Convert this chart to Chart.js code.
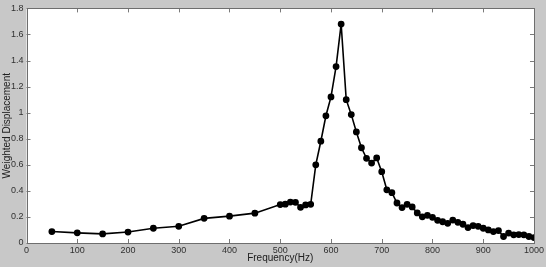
<!DOCTYPE html>
<html>
<head>
<meta charset="utf-8">
<script src="https://cdn.jsdelivr.net/npm/chart.js@4/dist/chart.umd.min.js"></script>
<style>
  html, body { margin: 0; padding: 0; background: #c8c8c8; }
  #wrap { width: 546px; height: 267px; }
</style>
</head>
<body>
<div id="wrap"><canvas id="freqChart" width="546" height="267"></canvas></div>
<script>
// frequency (Hz) and weighted displacement
const freqs = [50, 100, 150, 200, 250, 300, 350, 400, 450,
  500, 510, 520, 530, 540, 550, 560, 570, 580, 590,
  600, 610, 620, 630, 640, 650, 660, 670, 680, 690,
  700, 710, 720, 730, 740, 750, 760, 770, 780, 790,
  800, 810, 820, 830, 840, 850, 860, 870, 880, 890,
  900, 910, 920, 930, 940, 950, 960, 970, 980, 990, 1000];
const displacement = [0.088, 0.078, 0.070, 0.084, 0.113, 0.128, 0.189, 0.206, 0.229,
  0.295, 0.298, 0.314, 0.312, 0.274, 0.292, 0.297, 0.600, 0.781, 0.976,
  1.121, 1.354, 1.680, 1.100, 0.985, 0.852, 0.731, 0.650, 0.613, 0.653,
  0.547, 0.408, 0.386, 0.307, 0.272, 0.297, 0.277, 0.231, 0.201, 0.212,
  0.197, 0.174, 0.163, 0.151, 0.176, 0.159, 0.144, 0.118, 0.134, 0.128,
  0.113, 0.100, 0.088, 0.095, 0.050, 0.076, 0.063, 0.065, 0.063, 0.050, 0.042];
const xTicks = [0, 100, 200, 300, 400, 500, 600, 700, 800, 900, 1000];
const yTicks = [0, 0.2, 0.4, 0.6, 0.8, 1, 1.2, 1.4, 1.6, 1.8];

const canvas = document.getElementById('freqChart');
const points = freqs.map((f, i) => ({ x: f, y: displacement[i] }));

// gray figure background + white axes box, matlab style
const backdrop = {
  id: 'backdrop',
  beforeDraw(chart) {
    const ctx = chart.ctx;
    const a = chart.chartArea;
    ctx.save();
    ctx.fillStyle = '#c8c8c8';
    ctx.fillRect(0, 0, chart.width, chart.height);
    ctx.fillStyle = '#ffffff';
    ctx.fillRect(a.left, a.top, a.right - a.left, a.bottom - a.top);
    ctx.restore();
  },
  afterDraw(chart) {
    const ctx = chart.ctx;
    const a = chart.chartArea;
    const xs = chart.scales.x;
    const ys = chart.scales.y;
    ctx.save();
    ctx.strokeStyle = '#7a7a7a';
    ctx.lineWidth = 1;
    ctx.beginPath();
    // ticks pointing inward on all four sides
    xTicks.forEach(v => {
      const px = Math.round(xs.getPixelForValue(v)) + 0.5;
      ctx.moveTo(px, a.bottom); ctx.lineTo(px, a.bottom - 4);
      ctx.moveTo(px, a.top); ctx.lineTo(px, a.top + 4);
    });
    yTicks.forEach(v => {
      const py = Math.round(ys.getPixelForValue(v)) + 0.5;
      ctx.moveTo(a.left, py); ctx.lineTo(a.left + 4, py);
      ctx.moveTo(a.right, py); ctx.lineTo(a.right - 4, py);
    });
    ctx.stroke();
    ctx.strokeStyle = '#6e6e6e';
    ctx.strokeRect(Math.round(a.left) + 0.5, Math.round(a.top) + 0.5,
      Math.round(a.right - a.left), Math.round(a.bottom - a.top));
    ctx.restore();
  }
};

const config = {
  type: 'line',
  data: {
    datasets: [{
      label: 'Weighted Displacement',
      data: points,
      borderColor: '#000000',
      backgroundColor: '#000000',
      borderWidth: 1.6,
      pointRadius: 2.6,
      pointHoverRadius: 2.6,
      tension: 0
    }]
  },
  options: {
    responsive: false,
    animation: false,
    layout: { padding: { left: 0, right: 11, top: 5, bottom: 0 } },
    plugins: { legend: { display: false }, tooltip: { enabled: false } },
    scales: {
      x: {
        type: 'linear',
        min: 0,
        max: 1000,
        afterBuildTicks: s => { s.ticks = xTicks.map(v => ({ value: v })); },
        afterFit: s => { s.height = 24; },
        grid: { display: false, drawTicks: false },
        border: { display: false },
        ticks: {
          padding: 2,
          maxRotation: 0,
          color: '#303030',
          font: { family: 'Liberation Sans, Arial', size: 9 },
          callback: v => String(v)
        },
        title: {
          display: true,
          text: 'Frequency(Hz)',
          color: '#202020',
          padding: { top: 0, bottom: 3 },
          font: { family: 'Liberation Sans, Arial', size: 10 }
        }
      },
      y: {
        type: 'linear',
        min: 0,
        max: 1.8,
        afterBuildTicks: s => { s.ticks = yTicks.map(v => ({ value: v })); },
        afterFit: s => { s.width = 26.5; },
        grid: { display: false, drawTicks: false },
        border: { display: false },
        ticks: {
          padding: 3,
          color: '#303030',
          font: { family: 'Liberation Sans, Arial', size: 9 },
          callback: v => String(+v.toFixed(1))
        },
        title: {
          display: true,
          text: 'Weighted Displacement',
          color: '#202020',
          padding: { top: 1, bottom: 0 },
          font: { family: 'Liberation Sans, Arial', size: 10 }
        }
      }
    }
  },
  plugins: [backdrop]
};

const myChart = new Chart(canvas, config);
</script>
</body>
</html>
